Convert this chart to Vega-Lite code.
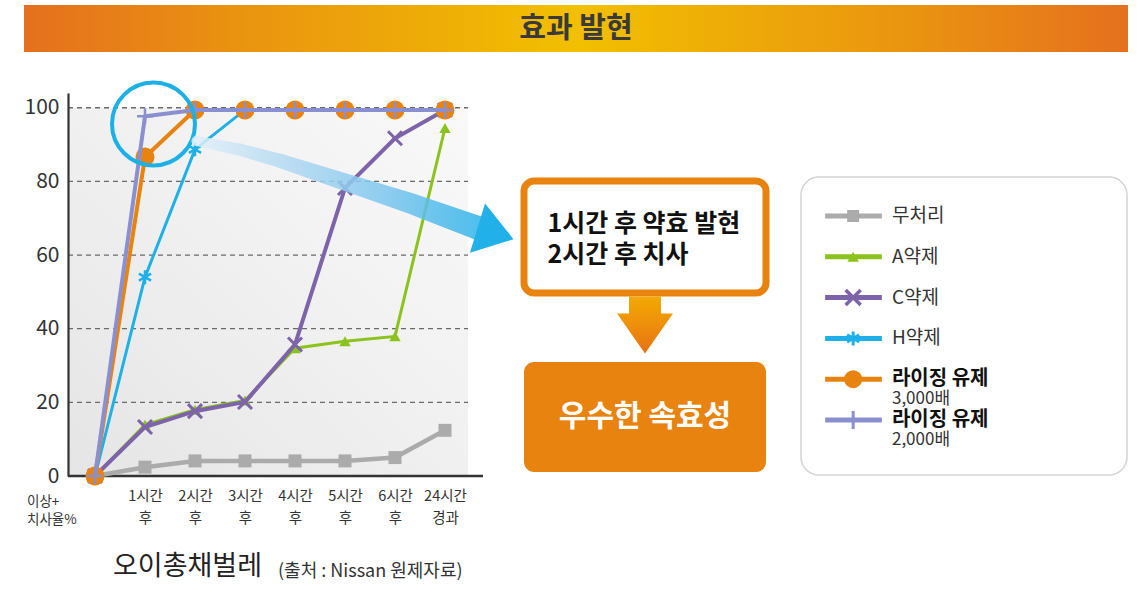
{
  "$schema": "https://vega.github.io/schema/vega-lite/v6.json",
  "padding": {"left": 24, "top": 5, "right": 0, "bottom": 0},
  "config": {"view": {"stroke": null}, "font": "Noto Sans CJK KR", "text": {"font": "Noto Sans CJK KR"}, "axis": {"labelFont": "Noto Sans CJK KR"}},
  "datasets": {
    "series": [
      {"s": "무처리", "t": 0, "v": 0}, {"s": "무처리", "t": 1, "v": 2.4}, {"s": "무처리", "t": 2, "v": 4.1}, {"s": "무처리", "t": 3, "v": 4.1},
      {"s": "무처리", "t": 4, "v": 4.1}, {"s": "무처리", "t": 5, "v": 4.1}, {"s": "무처리", "t": 6, "v": 5.0}, {"s": "무처리", "t": 7, "v": 12.4},
      {"s": "A약제", "t": 0, "v": 0}, {"s": "A약제", "t": 1, "v": 13.9}, {"s": "A약제", "t": 2, "v": 18.0}, {"s": "A약제", "t": 3, "v": 20.5},
      {"s": "A약제", "t": 4, "v": 34.7}, {"s": "A약제", "t": 5, "v": 36.6}, {"s": "A약제", "t": 6, "v": 37.9}, {"s": "A약제", "t": 7, "v": 94.5},
      {"s": "C약제", "t": 0, "v": 0}, {"s": "C약제", "t": 1, "v": 13.3}, {"s": "C약제", "t": 2, "v": 17.6}, {"s": "C약제", "t": 3, "v": 20.1},
      {"s": "C약제", "t": 4, "v": 35.7}, {"s": "C약제", "t": 5, "v": 78.2}, {"s": "C약제", "t": 6, "v": 91.7}, {"s": "C약제", "t": 7, "v": 99.4},
      {"s": "H약제", "t": 0, "v": 0}, {"s": "H약제", "t": 1, "v": 54.0}, {"s": "H약제", "t": 2, "v": 88.7}, {"s": "H약제", "t": 3, "v": 99.4},
      {"s": "H약제", "t": 4, "v": 99.4}, {"s": "H약제", "t": 5, "v": 99.4}, {"s": "H약제", "t": 6, "v": 99.4}, {"s": "H약제", "t": 7, "v": 99.4},
      {"s": "라이징 유제 3,000배", "t": 0, "v": 0}, {"s": "라이징 유제 3,000배", "t": 1, "v": 86.6}, {"s": "라이징 유제 3,000배", "t": 2, "v": 99.4}, {"s": "라이징 유제 3,000배", "t": 3, "v": 99.4},
      {"s": "라이징 유제 3,000배", "t": 4, "v": 99.4}, {"s": "라이징 유제 3,000배", "t": 5, "v": 99.4}, {"s": "라이징 유제 3,000배", "t": 6, "v": 99.4}, {"s": "라이징 유제 3,000배", "t": 7, "v": 99.4},
      {"s": "라이징 유제 2,000배", "t": 0, "v": 0}, {"s": "라이징 유제 2,000배", "t": 1, "v": 97.7}, {"s": "라이징 유제 2,000배", "t": 2, "v": 99.4}, {"s": "라이징 유제 2,000배", "t": 3, "v": 99.4},
      {"s": "라이징 유제 2,000배", "t": 4, "v": 99.4}, {"s": "라이징 유제 2,000배", "t": 5, "v": 99.4}, {"s": "라이징 유제 2,000배", "t": 6, "v": 99.4}, {"s": "라이징 유제 2,000배", "t": 7, "v": 99.4}
    ],
    "legendRows": [
      {"s": "무처리", "label": "무처리", "sub": ""},
      {"s": "A약제", "label": "A약제", "sub": ""},
      {"s": "C약제", "label": "C약제", "sub": ""},
      {"s": "H약제", "label": "H약제", "sub": ""},
      {"s": "라이징 유제 3,000배", "label": "라이징 유제", "sub": "3,000배"},
      {"s": "라이징 유제 2,000배", "label": "라이징 유제", "sub": "2,000배"}
    ]
  },
  "bounds": "flush",
  "spacing": 41,
  "vconcat": [
    {
      "width": 1104,
      "height": 47,
      "view": {"stroke": null, "fill": {"gradient": "linear", "x1": 0, "y1": 0, "x2": 1, "y2": 0, "stops": [{"offset": 0, "color": "#e5701d"}, {"offset": 0.2, "color": "#ea9410"}, {"offset": 0.5, "color": "#f2c000"}, {"offset": 0.8, "color": "#ea9410"}, {"offset": 1, "color": "#e5701d"}]}},
      "data": {"values": [{"t": "효과 발현"}]},
      "mark": {"type": "text", "fontSize": 29, "fontWeight": "bold", "color": "#3a3a3a", "align": "center", "baseline": "middle"},
      "encoding": {"text": {"field": "t"}}
    },
    {
      "bounds": "flush",
      "spacing": 0,
      "hconcat": [
        {"width": 44, "height": 10, "data": {"values": [{}]}, "mark": {"type": "point", "opacity": 0}, "encoding": {}},
        {
          "width": 400,
          "height": 383,
          "data": {"name": "series"},
          "layer": [
            {
              "data": {"values": [{}]},
              "mark": {"type": "rect", "fill": {"gradient": "linear", "x1": 0, "y1": 1, "x2": 1, "y2": 0, "stops": [{"offset": 0, "color": "#e5e5e5"}, {"offset": 0.5, "color": "#f0f0f0"}, {"offset": 1, "color": "#f9f9f9"}]}},
              "encoding": {
                "x": {"datum": -0.54, "type": "quantitative", "scale": {"domain": [-0.54, 7.46], "nice": false, "zero": false},
                  "axis": {"values": [1, 2, 3, 4, 5, 6, 7], "labelExpr": "datum.value == 7 ? ['24시간', '경과'] : [datum.value + '시간', '후']", "domain": false, "ticks": false, "grid": false, "labelPadding": 13, "labelFontSize": 14.5, "labelLineHeight": 22, "labelColor": "#333333", "labelFlush": false, "labelOverlap": false, "title": null}},
                "x2": {"datum": 7.46},
                "y": {"datum": 0, "type": "quantitative", "scale": {"domain": [0, 104], "nice": false},
                  "axis": {"values": [0, 20, 40, 60, 80, 100], "grid": false, "ticks": false, "domainColor": "#333333", "domainWidth": 2.2, "labelFontSize": 21, "labelColor": "#333333", "labelPadding": 9, "labelFlush": false, "title": null, "zindex": 1}},
                "y2": {"datum": 100}
              }
            },
            {
              "data": {"values": [{"g": 20}, {"g": 40}, {"g": 60}, {"g": 80}, {"g": 100}]},
              "mark": {"type": "rule", "color": "#6a6a6a", "strokeDash": [5, 4], "strokeWidth": 1.3},
              "encoding": {"x": {"datum": -0.54, "type": "quantitative"}, "x2": {"datum": 7.46}, "y": {"field": "g", "type": "quantitative"}}
            },
            {
              "data": {"values": [{}]},
              "mark": {"type": "rule", "color": "#333333", "strokeWidth": 2.5},
              "encoding": {"x": {"datum": -0.54, "type": "quantitative"}, "x2": {"datum": 7.76}, "y": {"datum": 0, "type": "quantitative"}}
            },
            {
              "transform": [{"filter": "datum.s === '무처리'"}],
              "mark": {"type": "line", "color": "#ababab", "strokeWidth": 4.5, "point": {"shape": "square", "size": 169, "filled": true, "color": "#ababab", "opacity": 1}},
              "encoding": {"x": {"field": "t", "type": "quantitative"}, "y": {"field": "v", "type": "quantitative"}}
            },
            {
              "transform": [{"filter": "datum.s === 'A약제'"}],
              "mark": {"type": "line", "color": "#8cc21d", "strokeWidth": 3, "point": {"shape": "triangle-up", "size": 130, "filled": true, "color": "#8cc21d", "opacity": 1}},
              "encoding": {"x": {"field": "t", "type": "quantitative"}, "y": {"field": "v", "type": "quantitative"}}
            },
            {
              "transform": [{"filter": "datum.s === 'C약제'"}],
              "mark": {"type": "line", "color": "#7d63a9", "strokeWidth": 4, "point": {"shape": "M-1,-1L1,1M-1,1L1,-1", "size": 196, "filled": false, "strokeWidth": 3, "color": "#7d63a9", "opacity": 1}},
              "encoding": {"x": {"field": "t", "type": "quantitative"}, "y": {"field": "v", "type": "quantitative"}}
            },
            {
              "transform": [{"filter": "datum.s === 'H약제'"}],
              "mark": {"type": "line", "color": "#1eb0e6", "strokeWidth": 3, "point": {"shape": "M0,-1L0,1M-0.87,-0.5L0.87,0.5M-0.87,0.5L0.87,-0.5", "size": 196, "filled": false, "strokeWidth": 2.5, "color": "#1eb0e6", "opacity": 1}},
              "encoding": {"x": {"field": "t", "type": "quantitative"}, "y": {"field": "v", "type": "quantitative"}}
            },
            {
              "transform": [{"filter": "datum.s === '라이징 유제 3,000배'"}],
              "mark": {"type": "line", "color": "#e8830f", "strokeWidth": 4, "point": {"shape": "circle", "size": 361, "filled": true, "color": "#e8830f", "opacity": 1}},
              "encoding": {"x": {"field": "t", "type": "quantitative"}, "y": {"field": "v", "type": "quantitative"}}
            },
            {
              "transform": [{"filter": "datum.s === '라이징 유제 2,000배'"}],
              "mark": {"type": "line", "color": "#8a8fcf", "strokeWidth": 4, "point": {"shape": "M-1,0L1,0M0,-1L0,1", "size": 256, "filled": false, "strokeWidth": 2.5, "color": "#8a8fcf", "opacity": 1}},
              "encoding": {"x": {"field": "t", "type": "quantitative"}, "y": {"field": "v", "type": "quantitative"}}
            },
            {
              "data": {"values": [{}]},
              "mark": {"type": "point", "shape": "circle", "size": 6889, "filled": false, "stroke": "#1cb0e6", "strokeWidth": 4, "opacity": 1},
              "encoding": {"x": {"datum": 1.17, "type": "quantitative"}, "y": {"datum": 95.6, "type": "quantitative"}}
            },
            {
              "data": {"values": [{"ax": 2.03, "ay": 91.0}, {"ax": 2.9, "ay": 88.6}, {"ax": 3.7, "ay": 85.6}, {"ax": 5.03, "ay": 79.7}, {"ax": 6.36, "ay": 73.8}, {"ax": 7.65, "ay": 67.4}]},
              "mark": {"type": "trail", "opacity": 0.85, "fill": {"gradient": "linear", "x1": 0, "y1": 0, "x2": 1, "y2": 0, "stops": [{"offset": 0, "color": "#e3f0fa"}, {"offset": 0.3, "color": "#b5daf2"}, {"offset": 0.65, "color": "#7cc6ee"}, {"offset": 1, "color": "#29b1e8"}]}},
              "encoding": {
                "x": {"field": "ax", "type": "quantitative"},
                "y": {"field": "ay", "type": "quantitative"},
                "size": {"field": "ax", "type": "quantitative", "scale": {"domain": [2, 7.7], "range": [10, 24]}, "legend": null},
                "order": {"field": "ax"}
              }
            },
            {
              "data": {"values": [{}]},
              "mark": {"type": "point", "shape": "M-0.73,-1L0.73,0L-0.73,1Z", "size": 2663, "filled": true, "fill": "#22b0e8", "angle": 17, "opacity": 1, "strokeWidth": 0},
              "encoding": {"x": {"datum": 8.01, "type": "quantitative"}, "y": {"datum": 65.8, "type": "quantitative"}}
            },
            {
              "data": {"values": [{"t": "이상+\n치사율%"}]},
              "mark": {"type": "text", "lineBreak": "\n", "align": "left", "baseline": "middle", "fontSize": 13.5, "lineHeight": 18, "color": "#333333"},
              "encoding": {"x": {"datum": -1.36, "type": "quantitative"}, "y": {"datum": -7.15, "type": "quantitative"}, "text": {"field": "t"}}
            },
            {
              "data": {"values": [{"t": "오이총채벌레"}]},
              "mark": {"type": "text", "align": "left", "baseline": "middle", "fontSize": 27, "color": "#222222"},
              "encoding": {"x": {"datum": 0.36, "type": "quantitative"}, "y": {"datum": -24.8, "type": "quantitative"}, "text": {"field": "t"}}
            },
            {
              "data": {"values": [{"t": "(출처 : Nissan 원제자료)"}]},
              "mark": {"type": "text", "align": "left", "baseline": "middle", "fontSize": 18, "color": "#333333"},
              "encoding": {"x": {"datum": 3.66, "type": "quantitative"}, "y": {"datum": -26.2, "type": "quantitative"}, "text": {"field": "t"}}
            }
          ]
        },
        {"width": 56, "height": 10, "data": {"values": [{}]}, "mark": {"type": "point", "opacity": 0}, "encoding": {}},
        {
          "bounds": "flush",
          "spacing": 0,
          "vconcat": [
            {"width": 242, "height": 87.5, "data": {"values": [{}]}, "mark": {"type": "point", "opacity": 0}, "encoding": {}},
            {
              "width": 242,
              "height": 112,
              "view": {"fill": "#ffffff", "stroke": "#e8830f", "strokeWidth": 7, "cornerRadius": 10},
              "data": {"values": [{"t": "1시간 후 약효 발현\n2시간 후 치사"}]},
              "mark": {"type": "text", "lineBreak": "\n", "align": "left", "baseline": "middle", "dx": -97.5, "dy": -13.5, "fontSize": 25, "fontWeight": "bold", "lineHeight": 31, "color": "#111111"},
              "encoding": {"text": {"field": "t"}}
            },
            {
              "width": 242,
              "height": 69,
              "data": {"values": [{}]},
              "mark": {"type": "point", "shape": "M-0.56,-1.09L0.56,-1.09L0.56,-0.49L0.98,-0.49L0,0.91L-0.98,-0.49L-0.56,-0.49Z", "size": 3249, "filled": true, "opacity": 1, "strokeWidth": 0,
                "fill": {"gradient": "linear", "x1": 0, "y1": 0, "x2": 0, "y2": 1, "stops": [{"offset": 0, "color": "#f2a900"}, {"offset": 0.5, "color": "#ee8f0c"}, {"offset": 1, "color": "#e6720f"}]}},
              "encoding": {}
            },
            {
              "width": 242,
              "height": 110,
              "view": {"fill": "#e8830f", "stroke": null, "cornerRadius": 10},
              "data": {"values": [{"t": "우수한 속효성"}]},
              "mark": {"type": "text", "fontSize": 30, "fontWeight": "bold", "color": "#ffffff", "align": "center", "baseline": "middle"},
              "encoding": {"text": {"field": "t"}}
            }
          ]
        },
        {"width": 277, "height": 10, "data": {"values": [{}]}, "mark": {"type": "point", "opacity": 0}, "encoding": {}},
        {
          "bounds": "flush",
          "spacing": 0,
          "vconcat": [
            {"width": 326, "height": 84, "data": {"values": [{}]}, "mark": {"type": "point", "opacity": 0}, "encoding": {}},
            {
              "width": 326,
              "height": 298,
              "view": {"fill": "#ffffff", "stroke": "#d4d4d4", "strokeWidth": 1.5, "cornerRadius": 18},
              "data": {"name": "legendRows"},
              "layer": [
                {
                  "mark": {"type": "rule", "strokeWidth": 5},
                  "encoding": {
                    "x": {"datum": 0.74, "type": "quantitative", "scale": {"domain": [0, 10], "nice": false, "zero": false}, "axis": null},
                    "x2": {"datum": 2.48},
                    "y": {"field": "s", "type": "nominal", "scale": {"type": "point", "padding": 0, "domain": ["무처리", "A약제", "C약제", "H약제", "라이징 유제 3,000배", "라이징 유제 2,000배"], "range": [39, 243]}, "axis": null},
                    "color": {"field": "s", "type": "nominal", "scale": {"domain": ["무처리", "A약제", "C약제", "H약제", "라이징 유제 3,000배", "라이징 유제 2,000배"], "range": ["#ababab", "#8cc21d", "#7d63a9", "#1eb0e6", "#e8830f", "#8a8fcf"]}, "legend": null}
                  }
                },
                {
                  "transform": [{"filter": "datum.s === '무처리'"}],
                  "mark": {"type": "point", "shape": "square", "size": 144, "filled": true, "color": "#ababab", "opacity": 1},
                  "encoding": {"x": {"datum": 1.6, "type": "quantitative"}, "y": {"field": "s", "type": "nominal"}}
                },
                {
                  "transform": [{"filter": "datum.s === 'A약제'"}],
                  "mark": {"type": "point", "shape": "triangle-up", "size": 130, "filled": true, "color": "#8cc21d", "opacity": 1},
                  "encoding": {"x": {"datum": 1.6, "type": "quantitative"}, "y": {"field": "s", "type": "nominal"}}
                },
                {
                  "transform": [{"filter": "datum.s === 'C약제'"}],
                  "mark": {"type": "point", "shape": "M-1,-1L1,1M-1,1L1,-1", "size": 225, "filled": false, "strokeWidth": 3.5, "color": "#7d63a9", "opacity": 1},
                  "encoding": {"x": {"datum": 1.6, "type": "quantitative"}, "y": {"field": "s", "type": "nominal"}}
                },
                {
                  "transform": [{"filter": "datum.s === 'H약제'"}],
                  "mark": {"type": "point", "shape": "M0,-1L0,1M-0.87,-0.5L0.87,0.5M-0.87,0.5L0.87,-0.5", "size": 196, "filled": false, "strokeWidth": 3, "color": "#1eb0e6", "opacity": 1},
                  "encoding": {"x": {"datum": 1.6, "type": "quantitative"}, "y": {"field": "s", "type": "nominal"}}
                },
                {
                  "transform": [{"filter": "datum.s === '라이징 유제 3,000배'"}],
                  "mark": {"type": "point", "shape": "circle", "size": 324, "filled": true, "color": "#e8830f", "opacity": 1},
                  "encoding": {"x": {"datum": 1.6, "type": "quantitative"}, "y": {"field": "s", "type": "nominal"}}
                },
                {
                  "transform": [{"filter": "datum.s === '라이징 유제 2,000배'"}],
                  "mark": {"type": "point", "shape": "M-1,0L1,0M0,-1L0,1", "size": 324, "filled": false, "strokeWidth": 3, "color": "#8a8fcf", "opacity": 1},
                  "encoding": {"x": {"datum": 1.6, "type": "quantitative"}, "y": {"field": "s", "type": "nominal"}}
                },
                {
                  "transform": [{"filter": "datum.sub === ''"}],
                  "mark": {"type": "text", "align": "left", "baseline": "middle", "fontSize": 19, "color": "#333333"},
                  "encoding": {"x": {"datum": 2.79, "type": "quantitative"}, "y": {"field": "s", "type": "nominal"}, "text": {"field": "label"}}
                },
                {
                  "transform": [{"filter": "datum.sub !== ''"}],
                  "mark": {"type": "text", "align": "left", "baseline": "middle", "fontSize": 20, "fontWeight": "bold", "color": "#111111"},
                  "encoding": {"x": {"datum": 2.79, "type": "quantitative"}, "y": {"field": "s", "type": "nominal"}, "text": {"field": "label"}}
                },
                {
                  "transform": [{"filter": "datum.sub !== ''"}],
                  "mark": {"type": "text", "align": "left", "baseline": "middle", "fontSize": 17, "dy": 20, "color": "#333333"},
                  "encoding": {"x": {"datum": 2.79, "type": "quantitative"}, "y": {"field": "s", "type": "nominal"}, "text": {"field": "sub"}}
                }
              ]
            }
          ]
        }
      ]
    }
  ]
}
